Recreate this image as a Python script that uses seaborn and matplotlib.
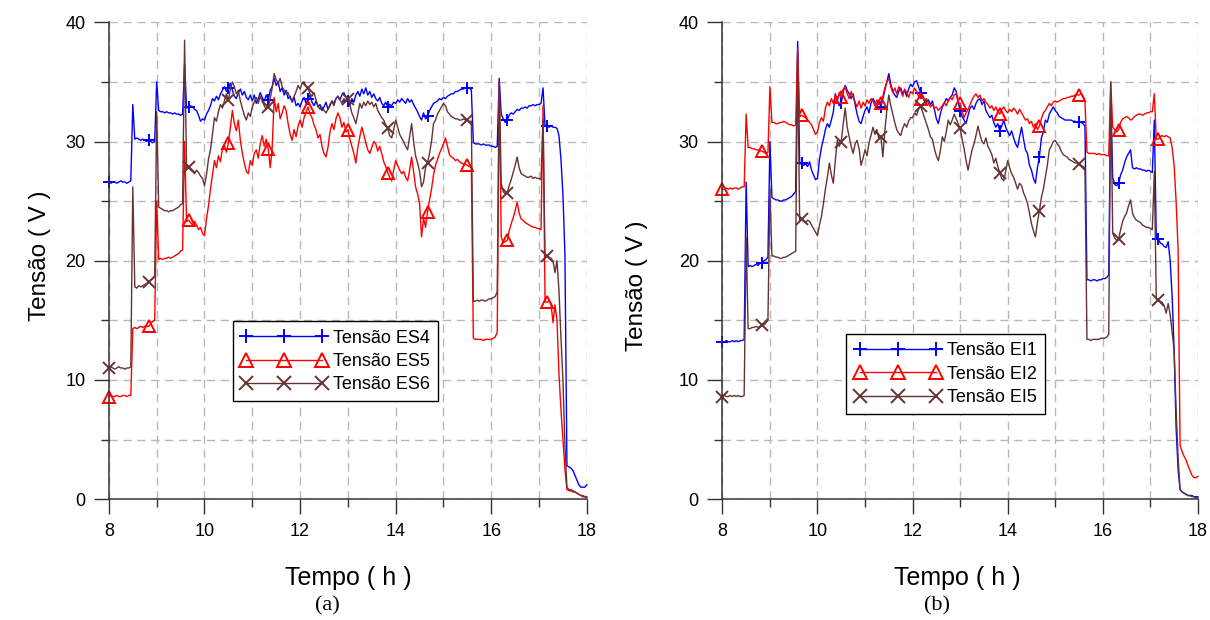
import numpy as np
import seaborn as sns
import matplotlib
matplotlib.use("Agg")
from matplotlib import pyplot as plt
from matplotlib.lines import Line2D
from matplotlib.ticker import MultipleLocator

# one reading every 2.5 min between 8 h and 18 h (241 samples)
hours = np.linspace(8, 18, 241)

# ---- panel (a) ----
es4 = [
    26.6, 26.5, 26.6, 26.6, 26.5, 26.6, 26.7, 26.6, 26.6, 26.5, 26.6, 26.7, 33.1, 30.2, 30.3, 30.2, 30.1, 30.2, 30.1, 30.0, 30.1, 30.0, 29.9, 30.0,
    35.0, 32.6, 32.5, 32.5, 32.4, 32.5, 32.4, 32.4, 32.3, 32.4, 32.3, 32.3, 32.2, 32.3, 36.5, 32.8, 32.9, 33.0, 32.9, 32.7, 32.6, 32.2, 31.7, 31.9,
    31.8, 32.3, 32.6, 33.0, 33.6, 33.4, 33.8, 33.5, 34.0, 34.3, 34.6, 34.2, 34.5, 34.9, 34.3, 33.8, 33.6, 34.1, 34.4, 33.9, 34.2, 33.7, 33.5, 33.9,
    33.4, 33.9, 33.2, 33.6, 34.1, 33.7, 33.4, 33.9, 33.5, 34.3, 34.6, 35.3, 34.7, 35.0, 34.2, 34.5, 33.9, 34.3, 33.6, 33.8, 33.3, 33.7, 33.0, 33.2,
    32.9, 33.4, 33.7, 33.2, 33.6, 33.9, 33.3, 33.0, 33.4, 32.9, 33.1, 32.6, 32.9, 33.3, 32.7, 33.0, 33.4, 33.2, 33.6, 33.8, 33.5, 33.9, 34.1, 33.7,
    33.4, 33.0, 33.6, 33.3, 33.9, 34.2, 33.8, 34.4, 34.0, 34.5, 33.9, 34.2, 33.7, 34.0, 33.6, 33.4, 33.7, 33.2, 33.0, 33.3, 32.9, 33.1, 33.0, 33.3,
    33.2, 33.5, 33.3, 33.6, 33.4, 33.2, 33.6, 33.3, 33.5, 33.1, 32.8, 32.5, 32.1, 31.8, 32.4, 31.9, 32.1, 32.6, 32.9, 33.2, 33.3, 33.4, 33.6, 33.5,
    33.7, 33.6, 33.8, 33.9, 34.0, 34.0, 34.2, 34.2, 34.3, 34.4, 34.4, 34.5, 34.5, 34.5, 34.3, 29.9, 29.8, 29.8, 29.8, 29.7, 29.8, 29.7, 29.7, 29.7,
    29.6, 29.6, 29.5, 29.6, 35.3, 32.3, 31.9, 31.6, 31.8, 32.2, 32.4, 32.3, 32.5, 32.7, 32.6, 32.8, 32.8, 32.9, 32.8, 33.0, 33.0, 33.1, 33.0, 33.1,
    33.1, 33.2, 34.5, 31.3, 31.3, 31.2, 31.3, 31.2, 31.2, 31.1, 30.5, 28.5, 25.5, 20.5, 2.8, 2.7, 2.6, 2.4, 2.0, 1.6, 1.2, 1.0, 1.0, 1.0,
    1.2,
]
es5 = [
    8.6, 8.7, 8.6, 8.6, 8.7, 8.6, 8.6, 8.7, 8.7, 8.6, 8.7, 8.7, 14.3, 14.4, 14.3, 14.4, 14.5, 14.4, 14.5, 14.5, 14.5, 14.7, 14.9, 15.0,
    25.0, 20.1, 20.2, 20.1, 20.2, 20.2, 20.3, 20.2, 20.3, 20.4, 20.5, 20.6, 20.8, 20.9, 30.0, 23.3, 23.4, 23.2, 23.0, 23.3, 23.0, 22.6, 22.8, 22.3,
    22.1, 23.5, 24.6, 26.0, 27.2, 28.4, 27.8, 28.8, 28.3, 29.4, 29.7, 29.1, 29.9, 31.2, 32.6, 31.5, 30.9, 31.8, 30.1, 29.0, 28.2, 27.5, 27.3, 28.4,
    28.0, 29.0, 29.3, 28.6, 29.8, 30.5, 29.6, 30.2, 29.4, 27.8, 29.5, 33.7, 32.5, 33.2, 31.9, 32.4, 33.0, 32.6, 31.5, 30.6, 30.1, 31.0, 30.4, 31.3,
    31.8, 31.2, 32.0, 32.5, 32.9, 32.3, 32.0, 31.4, 31.0, 30.3, 30.6, 29.6, 29.0, 28.7, 29.5, 30.8, 31.5, 31.0, 31.9, 32.4, 32.0, 31.2, 31.6, 30.8,
    31.0, 30.2, 29.6, 29.0, 28.2, 29.5, 30.4, 31.2, 30.6, 29.9, 29.3, 29.0, 29.5, 30.0, 29.8, 29.2, 29.6, 29.0, 28.3, 27.9, 27.4, 27.0, 26.7, 27.6,
    28.4, 28.0, 27.6, 27.3, 27.5, 27.0, 26.7, 27.6, 28.7, 27.5, 26.2, 25.6, 24.8, 22.0, 23.6, 22.8, 24.1, 25.1, 26.0, 27.2, 28.0, 28.5, 29.0, 29.4,
    29.8, 30.3, 29.6, 28.9, 28.7, 28.6, 28.4, 28.5, 28.3, 28.2, 28.1, 28.1, 28.0, 27.9, 27.8, 13.5, 13.4, 13.4, 13.4, 13.4, 13.3, 13.4, 13.4, 13.4,
    13.4, 13.5, 13.6, 14.0, 35.0, 22.0, 21.5, 21.6, 21.7, 22.5, 23.1, 23.6, 24.2, 24.9, 24.0, 23.5, 23.4, 23.2, 23.1, 23.0, 22.9, 22.8, 22.8, 22.7,
    22.7, 22.6, 33.0, 16.6, 16.5, 16.6, 16.4, 14.8, 16.3, 15.0, 10.5, 7.5, 5.0, 2.5, 0.8, 0.7, 0.7, 0.6, 0.6, 0.5, 0.4, 0.3, 0.3, 0.2,
    0.2,
]
es6 = [
    11.0, 11.1, 11.0, 10.9, 11.0, 11.1, 11.0, 11.0, 10.9, 11.0, 11.0, 11.1, 26.2, 17.8, 17.7, 17.9, 17.8, 17.9, 18.0, 18.1, 18.2, 18.4, 18.5, 18.7,
    32.5, 24.5, 24.4, 24.3, 24.2, 24.2, 24.1, 24.2, 24.2, 24.3, 24.4, 24.5, 24.7, 24.8, 38.5, 27.8, 27.9, 27.6, 27.5, 27.3, 27.6, 27.4, 27.1, 26.9,
    26.3, 27.2, 28.5, 29.3, 30.6, 32.0, 31.7, 32.5, 33.1, 32.8, 33.4, 34.0, 33.5, 34.4, 35.0, 34.6, 34.0, 34.3, 33.4, 32.8, 32.2, 31.8, 32.4, 32.1,
    32.9, 33.3, 33.7, 33.2, 33.8, 33.4, 33.0, 32.7, 32.9, 33.6, 34.5, 35.7, 35.2, 34.9, 35.3, 34.6, 34.3, 34.0, 34.1, 33.6, 33.4, 33.8, 34.2, 34.7,
    34.4, 34.9, 35.0, 34.6, 34.5, 34.0, 33.8, 34.1, 33.5, 33.0, 32.7, 32.9, 32.6, 32.4, 32.7, 33.1, 33.4, 33.0, 33.6, 33.8, 33.5, 33.2, 33.6, 33.4,
    33.6, 33.1, 32.4, 32.0, 31.5, 32.3, 33.2, 32.8, 33.3, 33.0, 33.4, 33.1, 33.3, 32.9, 33.2, 32.6, 32.3, 32.0, 31.8, 31.4, 31.1, 30.5, 30.3, 31.0,
    31.8, 31.2, 30.6, 30.3, 30.0, 29.6, 29.3, 30.4, 31.5, 30.0, 28.8, 28.2, 27.5, 26.2, 26.6, 27.8, 28.2, 29.0, 30.0, 31.5, 31.8, 32.3, 32.6, 32.9,
    33.2, 33.0, 32.5, 32.3, 32.1, 32.0, 31.9, 31.9, 31.8, 31.8, 31.9, 31.8, 31.8, 31.7, 31.7, 16.6, 16.6, 16.7, 16.6, 16.7, 16.7, 16.6, 16.7, 16.8,
    16.8, 16.9, 17.0, 17.4, 35.0, 26.5, 25.8, 25.6, 25.7, 26.3, 26.8, 27.4, 28.0, 28.7, 27.8, 27.3, 27.2, 27.1, 27.0, 27.0, 27.1, 26.9, 27.0, 26.9,
    26.9, 26.8, 31.8, 20.5, 20.4, 20.3, 20.2, 20.0, 19.0, 20.0, 17.5, 13.5, 10.0, 4.5, 1.0, 0.8, 0.8, 0.7, 0.6, 0.5, 0.4, 0.3, 0.2, 0.2,
    0.1,
]

# ---- panel (b) ----
ei1 = [
    13.2, 13.2, 13.3, 13.2, 13.2, 13.3, 13.2, 13.3, 13.2, 13.3, 13.3, 13.4, 26.6, 19.5, 19.6, 19.5, 19.6, 19.7, 19.6, 19.8, 19.8, 20.0, 20.1, 20.3,
    30.0, 25.3, 25.2, 25.1, 25.1, 25.0, 25.0, 25.1, 25.1, 25.2, 25.3, 25.4, 25.6, 25.8, 38.4, 28.1, 28.2, 28.0, 28.1, 27.9, 28.3, 27.6, 27.2, 26.8,
    26.9, 28.5, 29.5, 30.2, 31.0, 31.5, 31.2, 31.8, 32.5, 34.0, 33.5, 33.0, 33.2, 34.2, 34.7, 34.3, 34.0, 33.6, 34.0, 33.1, 32.3, 31.7, 31.5, 32.1,
    32.6, 32.9, 32.4, 33.2, 33.6, 33.3, 33.0, 33.4, 32.9, 33.6, 34.3, 35.0, 35.7, 34.8, 34.2, 33.9, 33.7, 34.2, 34.5, 34.0, 34.3, 33.8, 34.4, 34.8,
    34.6, 35.0, 35.1, 34.6, 34.1, 33.7, 33.4, 33.3, 33.5, 33.1, 33.4, 32.7, 31.9, 31.5, 32.3, 32.9, 33.2, 33.6, 33.4, 33.7, 33.9, 34.5, 34.2, 33.3,
    32.6, 32.1, 31.8, 31.5, 32.2, 32.8, 33.0, 32.7, 33.2, 33.5, 33.6, 33.1, 33.4, 32.6, 32.3, 32.0, 32.2, 31.6, 31.2, 31.5, 30.9, 31.3, 31.8, 31.2,
    30.8, 30.5, 30.9, 30.3, 29.8, 29.5, 30.4, 31.2, 30.2, 29.3, 29.0, 28.0, 27.6, 26.9, 26.5, 27.8, 28.7, 30.3, 30.8, 31.8, 31.6, 32.3, 32.6, 32.9,
    32.6, 32.4, 32.1, 32.0, 31.9, 31.8, 31.8, 31.8, 31.8, 31.7, 31.7, 31.6, 31.6, 31.6, 31.5, 31.3, 18.4, 18.4, 18.3, 18.4, 18.4, 18.3, 18.4, 18.4,
    18.5, 18.5, 18.6, 18.8, 34.0, 27.0, 26.4, 26.3, 26.5, 27.2, 27.6, 28.2, 28.7, 29.0, 29.3, 27.8, 27.7, 27.8, 27.7, 27.7, 27.6, 27.6, 27.5, 27.6,
    27.5, 27.4, 31.8, 21.9, 21.8, 21.5, 21.4, 21.2, 21.1, 21.6, 20.0, 17.0, 12.5, 6.0, 2.5, 0.8, 0.6, 0.5, 0.4, 0.3, 0.3, 0.3, 0.2, 0.2,
    0.2,
]
ei2 = [
    26.0, 26.0, 26.1, 26.0, 26.1, 26.0, 26.1, 26.1, 26.0, 26.1, 26.2, 26.2, 32.3, 29.5, 29.5, 29.4, 29.4, 29.3, 29.3, 29.2, 29.2, 29.1, 29.0, 29.1,
    34.6, 31.6, 31.6, 31.5, 31.5, 31.6, 31.6, 31.7, 31.6, 31.5, 31.4, 31.4, 31.3, 31.4, 37.8, 32.1, 32.2, 32.1, 32.0, 31.8, 31.6, 31.4, 31.0, 30.6,
    30.8, 31.6, 32.0, 31.7, 32.8, 33.3, 33.0, 33.6, 33.2, 33.9, 33.4, 34.1, 33.7, 34.4, 34.6, 34.0, 33.6, 34.2, 33.7, 33.3, 32.9, 33.4, 32.8, 33.3,
    33.0, 33.5, 33.2, 33.6, 33.4, 33.0, 33.5, 33.1, 33.2, 33.8, 34.5, 35.0, 35.3, 34.6, 34.1, 34.5, 34.0, 34.6, 34.3, 33.8, 34.4, 34.1, 33.7, 34.2,
    34.0, 34.5, 34.2, 33.8, 33.6, 33.9, 33.4, 33.6, 33.2, 32.9, 33.1, 32.8, 32.9, 32.6, 32.8, 33.0, 33.3, 33.0, 33.4, 33.7, 33.5, 33.9, 34.0, 33.3,
    33.2, 32.5, 32.0, 32.4, 32.7, 33.1, 33.5, 33.8, 34.0, 33.7, 33.9, 33.4, 33.6, 33.3, 33.1, 32.8, 33.0, 32.6, 32.9, 32.5, 32.3, 32.7, 32.9, 32.6,
    32.4, 32.7, 32.5, 32.8, 32.6, 32.3, 32.7, 32.4, 32.1, 31.8, 31.9, 31.5, 31.7, 31.2, 31.5, 31.0, 31.3, 31.9, 32.4, 32.6, 32.9, 33.2, 33.0, 33.3,
    33.4, 33.3, 33.4, 33.5, 33.6, 33.6, 33.7, 33.7, 33.8, 33.8, 33.9, 33.9, 33.9, 34.0, 33.8, 33.4, 29.1, 29.0, 29.0, 29.0, 29.0, 28.9, 29.0, 28.9,
    28.9, 28.9, 28.8, 28.8, 35.0, 31.2, 31.0, 30.8, 31.0, 31.6, 31.9, 32.0, 32.1, 32.0, 31.8, 31.9, 32.1, 32.2, 32.3, 32.3, 32.2, 32.3, 32.4, 32.4,
    32.5, 32.5, 34.0, 30.2, 30.2, 30.4, 30.5, 30.4, 30.5, 30.4, 30.3, 29.5, 28.0, 25.0, 21.0, 4.5, 4.0, 3.6, 3.3, 2.8, 2.4, 2.0, 1.8, 1.8,
    1.9,
]
ei5 = [
    8.6, 8.7, 8.6, 8.6, 8.7, 8.6, 8.7, 8.6, 8.7, 8.6, 8.6, 8.7, 22.0, 14.3, 14.3, 14.4, 14.4, 14.5, 14.4, 14.5, 14.6, 14.6, 14.8, 15.0,
    26.0, 20.4, 20.4, 20.3, 20.3, 20.2, 20.2, 20.3, 20.3, 20.4, 20.5, 20.6, 20.7, 20.8, 37.4, 23.4, 23.5, 23.3, 23.2, 23.4, 23.3, 23.0, 22.7, 22.4,
    22.1, 23.0, 23.7, 24.8, 26.0, 27.0, 28.2, 27.2, 26.5, 28.4, 30.1, 29.6, 30.0, 31.5, 32.8, 31.2, 30.4, 29.6, 29.0, 29.8, 30.1, 29.4, 28.0, 28.6,
    29.3, 28.8, 29.9, 30.5, 31.2, 30.6, 31.0, 30.2, 30.4, 28.7, 30.9, 32.6, 33.9, 33.0, 32.3, 31.6, 31.0, 30.7, 30.5, 31.1, 31.5, 31.2, 31.7, 32.0,
    32.0, 32.4, 32.2, 32.7, 33.0, 32.5, 32.0, 31.5, 31.0, 30.4, 30.2, 29.4, 28.8, 28.4, 29.2, 30.4, 30.0, 30.8, 31.8, 31.4, 31.8, 32.3, 31.9, 31.5,
    31.1, 30.2, 29.4, 28.4, 27.6, 28.5, 29.3, 29.8, 30.5, 31.3, 30.6, 30.0, 29.8, 30.3, 29.6, 29.3, 28.9, 28.2, 28.6, 27.9, 27.4, 26.9, 26.7, 27.5,
    28.4, 27.8, 27.3, 27.0, 26.5, 26.0, 26.5, 26.3, 25.7, 25.3, 24.8, 24.0, 23.1, 22.5, 22.0, 23.2, 24.2, 25.3, 26.0, 27.0, 28.0, 29.3, 29.6, 30.0,
    30.1, 29.8, 29.6, 29.2, 28.9, 28.8, 28.7, 28.5, 28.4, 28.3, 28.2, 28.2, 28.1, 28.0, 27.9, 27.8, 13.4, 13.4, 13.3, 13.4, 13.4, 13.4, 13.4, 13.5,
    13.5, 13.5, 13.6, 13.8, 35.0, 22.3, 21.9, 21.7, 21.8, 22.6, 23.3, 23.7, 24.0, 24.6, 25.1, 24.0, 23.6, 23.4, 23.3, 23.2, 23.0, 22.9, 22.8, 22.8,
    22.7, 22.6, 27.5, 16.8, 16.7, 16.6, 16.5, 16.2, 15.6, 16.4, 15.5, 14.0, 12.5, 7.5, 3.5, 0.8, 0.6, 0.5, 0.4, 0.3, 0.3, 0.2, 0.2, 0.1,
    0.1,
]

labels_a = ["Tensão ES4", "Tensão ES5", "Tensão ES6"]
labels_b = ["Tensão EI1", "Tensão EI2", "Tensão EI5"]

colors = ["#0000ff", "#ff0000", "#663333"]
markers = ["+", "^", "x"]
fills = [None, "none", None]

plt.rcParams["font.family"] = ["Liberation Sans", "DejaVu Sans"]

fig = plt.figure(figsize=(12.1, 6.2), dpi=100)
ax_a = fig.add_axes([0.090, 0.195, 0.395, 0.769])
ax_b = fig.add_axes([0.597, 0.195, 0.393, 0.769])


def style(i, size):
    st = dict(color=colors[i], marker=markers[i], markersize=size,
              markeredgewidth=1.4, markeredgecolor=colors[i])
    if fills[i]:
        st["markerfacecolor"] = fills[i]
    return st


def draw_panel(ax, series, labels, legend_xy):
    for i, values in enumerate(series):
        sns.lineplot(
            x=hours, y=values, ax=ax, estimator=None, linewidth=1.0,
            markevery=slice(0, 240, 20), legend=False, clip_on=False,
            **style(i, 8)
        )
    ax.set_xlim(8, 18)
    ax.set_ylim(0, 40)
    ax.xaxis.set_major_locator(MultipleLocator(2))
    ax.xaxis.set_minor_locator(MultipleLocator(1))
    ax.yaxis.set_major_locator(MultipleLocator(10))
    ax.yaxis.set_minor_locator(MultipleLocator(5))
    ax.grid(which="both", linestyle=(0, (6, 4)), color="#b8b8b8", linewidth=1)
    ax.set_axisbelow(True)
    for side in ["top", "right"]:
        ax.spines[side].set_visible(False)
    for side in ["left", "bottom"]:
        ax.spines[side].set_color("#333333")
        ax.spines[side].set_linewidth(1.1)
    ax.tick_params(which="major", direction="out", length=11, width=1,
                   color="#333333", pad=6, labelsize=13)
    ax.tick_params(which="minor", direction="out", length=6, width=1,
                   color="#333333")
    ax.set_xlabel("")
    ax.set_ylabel("")
    # legend handles without markevery so that three markers show
    handles = [Line2D([], [], linewidth=1.0, **style(i, 10)) for i in range(3)]
    leg = ax.legend(
        handles, labels, loc="lower left", bbox_to_anchor=legend_xy,
        borderaxespad=0, numpoints=3, handlelength=4.8, handletextpad=0.3,
        fontsize=13, fancybox=False, framealpha=1, edgecolor="black",
        labelspacing=0.35, borderpad=0.45,
    )
    leg.get_frame().set_linewidth(1.0)
    leg.set_zorder(5)


draw_panel(ax_a, [es4, es5, es6], labels_a, (0.259, 0.205))
draw_panel(ax_b, [ei1, ei2, ei5], labels_b, (0.261, 0.178))

W, H = 1210, 620
fig.text(40 / W, 1 - 256 / H, "Tensão ( V )", rotation=90, ha="center",
         va="center", fontsize=17.5)
fig.text(637 / W, 1 - 286 / H, "Tensão ( V )", rotation=90, ha="center",
         va="center", fontsize=17.5)
fig.text(348 / W, 1 - 578 / H, "Tempo ( h )", ha="center", va="center",
         fontsize=18)
fig.text(957 / W, 1 - 578 / H, "Tempo ( h )", ha="center", va="center",
         fontsize=18)
fig.text(327 / W, 1 - 606 / H, "(a)", ha="center", va="center", fontsize=16,
         family=["Liberation Serif", "DejaVu Serif"])
fig.text(937 / W, 1 - 606 / H, "(b)", ha="center", va="center", fontsize=16,
         family=["Liberation Serif", "DejaVu Serif"])

fig.savefig("out.png", dpi=100)
